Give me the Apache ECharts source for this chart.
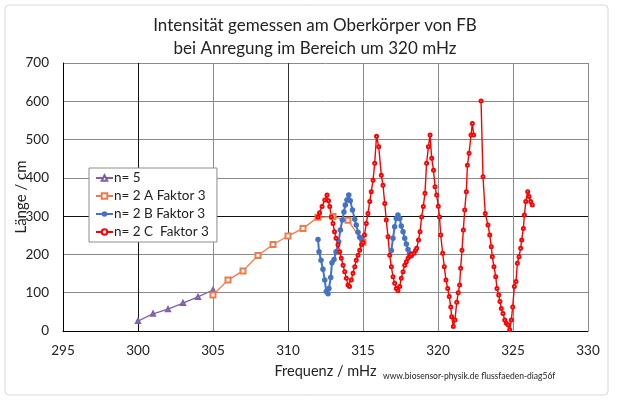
<!DOCTYPE html>
<html>
<head>
<meta charset="utf-8">
<script src="https://cdn.jsdelivr.net/npm/echarts@6/dist/echarts.min.js"></script>
<style>
html,body{margin:0;padding:0;background:#fff;}
#chart{width:622px;height:410px;}
</style>
</head>
<body>
<div id="chart"></div>
<script>
const titleText = 'Intensität gemessen am Oberkörper von FB\nbei Anregung im Bereich um 320 mHz';
const xName = 'Frequenz / mHz';
const yName = 'Länge / cm';
const footer = 'www.biosensor-physik.de flussfaeden-diag56f';
const seriesNames = ['n= 5', 'n= 2 A Faktor 3', 'n= 2 B Faktor 3', 'n= 2 C  Faktor 3'];

const purpleX = [300, 301, 302, 303, 304, 305];
const purpleY = [26, 45, 57, 73, 89, 107];

const orangeX = [305, 306, 307, 308, 309, 310, 311, 312, 313, 314, 315];
const orangeY = [94, 133, 157, 197, 226, 248, 268, 297, 299, 289, 232];

const blueX = [312.0, 312.07, 312.2, 312.33, 312.45, 312.55, 312.67, 312.73, 312.85, 312.93, 313.07, 313.2, 313.38, 313.49, 313.62, 313.73, 313.82, 313.93, 314.05, 314.15, 314.3, 314.45, 314.55, 314.67, 314.78, 314.9,
  315.9,
  316.89, 317.0, 317.11, 317.22, 317.33, 317.45, 317.55, 317.67, 317.78, 317.89, 318.0, 318.11, 318.22];
const blueY = [239, 207, 185, 161, 133, 103, 97, 111, 140, 178, 187, 207, 233, 264, 290, 311, 329, 342, 355, 340, 316, 292, 277, 258, 245, 240,
  '-',
  210, 242, 272, 294, 303, 294, 274, 259, 242, 227, 213, 203, 196];

const redX = [312.0, 312.1, 312.27, 312.45, 312.6, 312.7, 312.78, 312.89, 313.0, 313.1,
  313.2, 313.33, 313.45, 313.55, 313.67, 313.78, 313.89, 314.0, 314.1, 314.22,
  314.33, 314.45, 314.55, 314.67, 314.78, 314.9, 315.0, 315.1, 315.22, 315.33,
  315.45, 315.55, 315.67, 315.78, 315.9, 316.05, 316.22, 316.33, 316.45, 316.55,
  316.67, 316.78, 316.89, 317.0, 317.11, 317.22, 317.33, 317.45, 317.55, 317.67,
  317.78, 317.89, 318.0, 318.11, 318.22, 318.4, 318.5, 318.58, 318.7, 318.8,
  318.91, 319.02, 319.13, 319.24, 319.36, 319.47, 319.58, 319.7, 319.8, 319.91,
  320.02, 320.1, 320.18, 320.31, 320.42, 320.53, 320.65, 320.75, 320.85, 320.91,
  321.02, 321.13, 321.25, 321.35, 321.44, 321.51, 321.6, 321.69, 321.78, 321.89,
  321.96, 322.07, 322.2, 322.29, 322.38,
  322.6,
  322.87, 323.0, 323.15, 323.33, 323.45, 323.55, 323.62, 323.73, 323.85, 323.93,
  324.05, 324.13, 324.22, 324.33, 324.45, 324.55, 324.67, 324.78, 324.89, 324.98,
  325.09, 325.2, 325.29, 325.4, 325.51, 325.58, 325.69, 325.76, 325.85, 325.98,
  326.07, 326.18, 326.29];
const redY = [298, 309, 325, 342, 355, 340, 325, 298, 281, 259,
  242, 225, 207, 190, 172, 155, 138, 120, 116, 133,
  151, 168, 185, 198, 211, 225, 231, 251, 281, 307,
  338, 364, 394, 438, 509, 481, 407, 381, 333, 290,
  246, 198, 168, 142, 125, 111, 105, 116, 138, 155,
  172, 181, 190, 196, 200, 203, 210, 216, 238, 259,
  298, 325, 360, 438, 481, 512, 451, 420, 377, 355,
  326, 298, 251, 203, 168, 133, 111, 90, 63, 37,
  12, 29, 75, 100, 120, 164, 211, 264, 316, 364,
  433, 464, 512, 542, 512,
  '-',
  601, 403, 307, 277, 251, 220, 194, 168, 142, 111,
  94, 77, 59, 46, 29, 20, 16, 3, 29, 63,
  116, 129, 177, 194, 216, 238, 268, 303, 338, 364,
  351, 338, 329];

const xTicks = [295, 300, 305, 310, 315, 320, 325, 330];
const yTicks = [0, 100, 200, 300, 400, 500, 600, 700];

function zip(xs, ys) { return xs.map((x, i) => [x, ys[i]]); }

const FONT = 'Lato, "Open Sans", sans-serif';
const chart = echarts.init(document.getElementById('chart'), null, {renderer: 'canvas'});

chart.setOption({
  animation: false,
  backgroundColor: '#fff',
  title: {
    text: titleText,
    left: 310, top: 9, textAlign: 'center',
    textStyle: {fontFamily: FONT, fontSize: 17, fontWeight: 'normal', color: '#222', lineHeight: 23}
  },
  legend: {
    orient: 'vertical',
    left: 89, top: 168,
    padding: [3, 8, 3, 6],
    itemGap: 4,
    itemWidth: 17, itemHeight: 7,
    backgroundColor: '#fff',
    borderColor: '#8c8c8c', borderWidth: 1,
    textStyle: {fontFamily: FONT, fontSize: 13.5, color: '#222', padding: [0, 0, 0, -4]},
    data: seriesNames
  },
  grid: {left: 63, right: 34, top: 63, bottom: 79, containLabel: false, outerBoundsMode: 'none'},
  xAxis: {
    type: 'value', min: xTicks[0], max: xTicks[xTicks.length - 1], interval: 5,
    name: xName, nameLocation: 'middle', nameGap: 33, nameMoveOverlap: false,
    nameTextStyle: {fontFamily: FONT, fontSize: 14.5, color: '#222'},
    axisLine: {lineStyle: {color: '#000', width: 1}},
    axisTick: {show: false},
    axisLabel: {fontFamily: FONT, fontSize: 13.5, color: '#222', margin: 13},
    splitLine: {show: true, lineStyle: {color: ['#000', '#111', '#8a8a8a', '#333', '#8a8a8a', '#8a8a8a', '#8a8a8a', '#8a8a8a'], width: 1}}
  },
  yAxis: {
    type: 'value', min: yTicks[0], max: yTicks[yTicks.length - 1], interval: 100,
    name: yName, nameLocation: 'middle', nameGap: 34, nameMoveOverlap: false,
    nameTextStyle: {fontFamily: FONT, fontSize: 15, color: '#222'},
    axisLine: {show: true, lineStyle: {color: '#000', width: 1}},
    axisTick: {show: false},
    axisLabel: {fontFamily: FONT, fontSize: 13.5, color: '#222', margin: 14},
    splitLine: {show: true, lineStyle: {color: ['#000', '#8a8a8a', '#8a8a8a', '#111', '#8a8a8a', '#8a8a8a', '#8a8a8a', '#8a8a8a'], width: 1}}
  },
  graphic: [
    {type: 'rect', shape: {x: 5, y: 5, width: 603, height: 390, r: 4}, style: {fill: 'none', stroke: '#d9d9d9', lineWidth: 1}, z: -1},
    {type: 'text', left: 383, top: 372, style: {text: footer, fontFamily: FONT, fontSize: 8.5, fill: '#222'}}
  ],
  series: [
    {
      name: seriesNames[0], type: 'line', data: zip(purpleX, purpleY),
      symbol: 'emptyTriangle', symbolSize: 4,
      lineStyle: {color: '#7f5fa8', width: 1.3}, itemStyle: {color: '#7f5fa8', borderWidth: 1}
    },
    {
      name: seriesNames[1], type: 'line', data: zip(orangeX, orangeY),
      symbol: 'emptyRect', symbolSize: 5,
      lineStyle: {color: '#f07b4a', width: 1.3}, itemStyle: {color: '#f07b4a', borderWidth: 1}
    },
    {
      name: seriesNames[2], type: 'line', data: zip(blueX, blueY), connectNulls: false,
      symbol: 'circle', symbolSize: 5.5,
      lineStyle: {color: '#4472c4', width: 2}, itemStyle: {color: '#4472c4'}
    },
    {
      name: seriesNames[3], type: 'line', data: zip(redX, redY), connectNulls: false,
      symbol: 'emptyCircle', symbolSize: 3,
      lineStyle: {color: '#ff0000', width: 1.4}, itemStyle: {color: '#ff0000', borderWidth: 0.8}
    }
  ]
});
</script>
</body>
</html>
